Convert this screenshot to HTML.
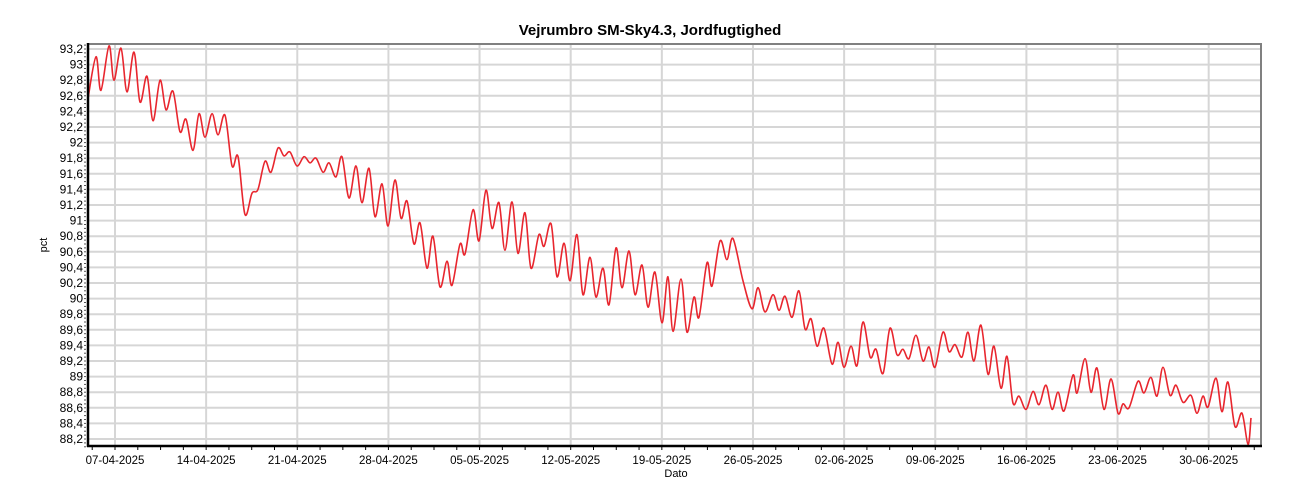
<!DOCTYPE html>
<html><head><meta charset="utf-8"><style>
html,body{margin:0;padding:0;background:#fff;}
svg{display:block;font-family:"Liberation Sans",Arial,sans-serif;}
</style></head><body>
<svg id="chart" width="1300" height="500" viewBox="0 0 1300 500" xmlns="http://www.w3.org/2000/svg">
<rect width="1300" height="500" fill="#fff"/>
<text x="650" y="35" text-anchor="middle" font-size="15" font-weight="bold" fill="#000">Vejrumbro SM-Sky4.3, Jordfugtighed</text>
<g id="grid"></g>
<g id="series"></g>
<g id="axes"></g>
<text x="0" y="0" transform="translate(47,245) rotate(-90)" text-anchor="middle" font-size="11" fill="#000">pct</text>
<text x="676" y="477" text-anchor="middle" font-size="11" fill="#000">Dato</text>
</svg>
<script>
const days=[-2.07,-1.46,-1.08,-0.46,-0.08,0.46,0.92,1.46,1.92,2.46,2.92,3.46,3.92,4.45,4.99,5.45,5.99,6.45,6.91,7.45,7.91,8.45,8.99,9.45,9.98,10.52,10.98,11.52,11.98,12.52,12.98,13.44,13.98,14.52,14.98,15.44,15.98,16.44,16.97,17.43,17.97,18.51,18.97,19.51,19.97,20.51,20.97,21.5,21.97,22.43,22.96,23.43,23.96,24.42,24.96,25.5,25.88,26.5,26.88,27.5,27.96,28.49,28.96,29.49,29.95,30.49,30.95,31.49,31.95,32.56,32.95,33.49,33.95,34.49,34.95,35.48,35.94,36.48,36.94,37.48,37.94,38.48,38.94,39.48,39.94,40.48,40.94,41.47,42.01,42.47,42.86,43.47,43.93,44.47,44.85,45.47,45.85,46.47,47.0,47.46,48.23,48.92,49.39,49.92,50.54,51.0,51.46,52.0,52.53,53.0,53.46,53.92,54.45,55.07,55.53,55.99,56.53,56.99,57.45,58.0,58.45,58.99,59.52,60.06,60.52,60.98,61.52,62.06,62.52,62.98,63.59,64.06,64.52,65.05,65.51,65.97,66.51,67.05,67.51,68.05,68.51,68.97,69.43,69.97,70.51,70.97,71.5,71.97,72.43,72.89,73.58,73.89,74.5,74.96,75.42,75.96,76.5,77.04,77.42,77.88,78.57,79.03,79.56,80.03,80.49,81.03,81.49,82.03,82.64,83.1,83.56,83.95,84.56,85.02,85.48,86.02,86.56,87.02,87.25];
const values=[92.57,93.1,92.67,93.24,92.8,93.21,92.65,93.16,92.52,92.85,92.28,92.8,92.42,92.66,92.14,92.3,91.9,92.37,92.07,92.37,92.1,92.35,91.7,91.82,91.08,91.35,91.4,91.76,91.62,91.93,91.83,91.88,91.7,91.82,91.74,91.8,91.62,91.74,91.56,91.82,91.29,91.7,91.23,91.67,91.05,91.47,90.93,91.52,91.03,91.25,90.7,90.97,90.39,90.8,90.15,90.48,90.17,90.7,90.57,91.14,90.74,91.39,90.9,91.23,90.62,91.24,90.58,91.1,90.39,90.82,90.67,90.96,90.28,90.71,90.23,90.82,90.05,90.53,90.02,90.39,89.92,90.65,90.14,90.61,90.05,90.43,89.89,90.34,89.69,90.28,89.58,90.25,89.57,90.02,89.76,90.46,90.16,90.74,90.5,90.77,90.23,89.87,90.14,89.83,90.05,89.85,90.03,89.76,90.1,89.61,89.74,89.39,89.62,89.16,89.44,89.12,89.39,89.14,89.7,89.25,89.35,89.04,89.62,89.28,89.35,89.23,89.53,89.2,89.38,89.12,89.57,89.32,89.41,89.25,89.57,89.2,89.66,89.03,89.39,88.85,89.26,88.66,88.75,88.58,88.81,88.64,88.89,88.58,88.8,88.56,89.02,88.79,89.23,88.8,89.11,88.58,88.97,88.53,88.65,88.6,88.94,88.79,88.99,88.75,89.12,88.76,88.89,88.67,88.76,88.53,88.75,88.61,88.98,88.55,88.93,88.36,88.53,88.13,88.47];
const yTicks=[88.2,88.4,88.6,88.8,89,89.2,89.4,89.6,89.8,90,90.2,90.4,90.6,90.8,91,91.2,91.4,91.6,91.8,92,92.2,92.4,92.6,92.8,93,93.2];
const xTickDays=[0,7,14,21,28,35,42,49,56,63,70,77,84];
const xTickLabels=["07-04-2025","14-04-2025","21-04-2025","28-04-2025","05-05-2025","12-05-2025","19-05-2025","26-05-2025","02-06-2025","09-06-2025","16-06-2025","23-06-2025","30-06-2025"];

(function(){
const L=88,R=1261,T=44,B=446;
const xs=d=>115+d*13.02;
const ys=v=>439-(v-88.2)*78;
const NS="http://www.w3.org/2000/svg";
function mk(tag,attrs,parent){const e=document.createElementNS(NS,tag);for(const k in attrs)e.setAttribute(k,attrs[k]);parent.appendChild(e);return e;}
const grid=document.getElementById('grid'),axes=document.getElementById('axes'),series=document.getElementById('series');

yTicks.forEach((v,i)=>{
  const g=mk('line',{x1:L,x2:R,y1:ys(v),y2:ys(v),stroke:'#d6d6d6','stroke-width':2},grid);
  
  
  const t=mk('text',{x:83,y:ys(v)+4,'text-anchor':'end','font-size':12,fill:'#000'},axes);
  t.textContent=String(v).replace('.',',');
  
  
});
xTickDays.forEach((d,i)=>{
  const g=mk('line',{x1:xs(d),x2:xs(d),y1:T,y2:B,stroke:'#d6d6d6','stroke-width':2},grid);
  
  
  const t=mk('text',{x:xs(d),y:464,'text-anchor':'middle','font-size':11.5,fill:'#000'},axes);
  t.textContent=xTickLabels[i];
  
  
});
for(let d=-1.75;xs(d)<R-4;d+=1.75){
  const m=mk('line',{x1:xs(d),x2:xs(d),y1:B,y2:B+4,stroke:'#000','stroke-width':1},axes);
  
  
}
for(let v=88.1;v<93.26;v+=0.05){
  const m=mk('line',{x1:L-4,x2:L-2,y1:ys(v),y2:ys(v),stroke:'#555','stroke-width':1},axes);
  
  
}
const borderTop=mk('line',{x1:L,x2:R+1,y1:T,y2:T,stroke:'#808080','stroke-width':2},axes);


const borderRight=mk('line',{x1:R,x2:R,y1:T,y2:B,stroke:'#808080','stroke-width':2},axes);


const xa=mk('line',{x1:L-1,x2:R+1,y1:B,y2:B,stroke:'#000','stroke-width':2.5},axes);


const ya=mk('line',{x1:L,x2:L,y1:T-1,y2:B+1,stroke:'#000','stroke-width':2.5},axes);



const n=Math.min(days.length,values.length);
const pts=[];
for(let i=0;i<n;i++)pts.push([xs(days[i]),ys(values[i])]);
let dstr='M'+pts[0][0].toFixed(2)+','+pts[0][1].toFixed(2);
for(let i=0;i<pts.length-1;i++){
  const p0=pts[Math.max(0,i-1)],p1=pts[i],p2=pts[i+1],p3=pts[Math.min(pts.length-1,i+2)];
  const c1x=p1[0]+(p2[0]-p0[0])/6,c1y=p1[1]+(p2[1]-p0[1])/6;
  const c2x=p2[0]-(p3[0]-p1[0])/6,c2y=p2[1]-(p3[1]-p1[1])/6;
  dstr+=` C${c1x.toFixed(2)},${c1y.toFixed(2)} ${c2x.toFixed(2)},${c2y.toFixed(2)} ${p2[0].toFixed(2)},${p2[1].toFixed(2)}`;
}
const line=mk('path',{d:dstr,fill:'none',stroke:'#e8262e','stroke-width':1.6,'stroke-linejoin':'round'},series);


})();
</script>
</body></html>
